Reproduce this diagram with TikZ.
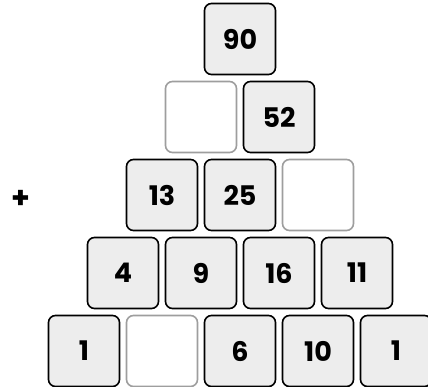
\documentclass[tikz,border=0pt]{standalone}
\usepackage{fontspec}
\setmainfont{Poppins}
\begin{document}
\begin{tikzpicture}[x=1pt,y=-1pt,
    brick/.style={draw=black,fill=black!7,line width=1.6pt,rounded corners=7pt,
      minimum size=71pt,inner sep=0pt,font=\bfseries\fontsize{27}{30}\selectfont},
    gap/.style={brick,draw=black!38,fill=white},
    every node/.style={font=\bfseries}]
  \useasboundingbox (0,0) rectangle (428,387);
  % the wall, top row first
  \foreach \c/\s/\v in {1/brick/90}{
    \node[\s] (w1\c) at ({240+78*(\c-1)},39) {\v};
  }
  \foreach \c/\s/\v in {1/gap/{},2/brick/52}{
    \node[\s] (w2\c) at ({201+78*(\c-1)},117) {\v};
  }
  \foreach \c/\s/\v in {1/brick/13,2/brick/25,3/gap/{}}{
    \node[\s] (w3\c) at ({162+78*(\c-1)},195) {\v};
  }
  \foreach \c/\s/\v in {1/brick/4,2/brick/9,3/brick/16,4/brick/11}{
    \node[\s] (w4\c) at ({123+78*(\c-1)},273) {\v};
  }
  \foreach \c/\s/\v in {1/brick/1,2/gap/{},3/brick/6,4/brick/10,5/brick/1}{
    \node[\s] (w5\c) at ({84+78*(\c-1)},351) {\v};
  }
  % the operation
  \node[font=\bfseries\fontsize{30}{32}\selectfont] (op) at (21,199) {+};
\end{tikzpicture}
\end{document}
